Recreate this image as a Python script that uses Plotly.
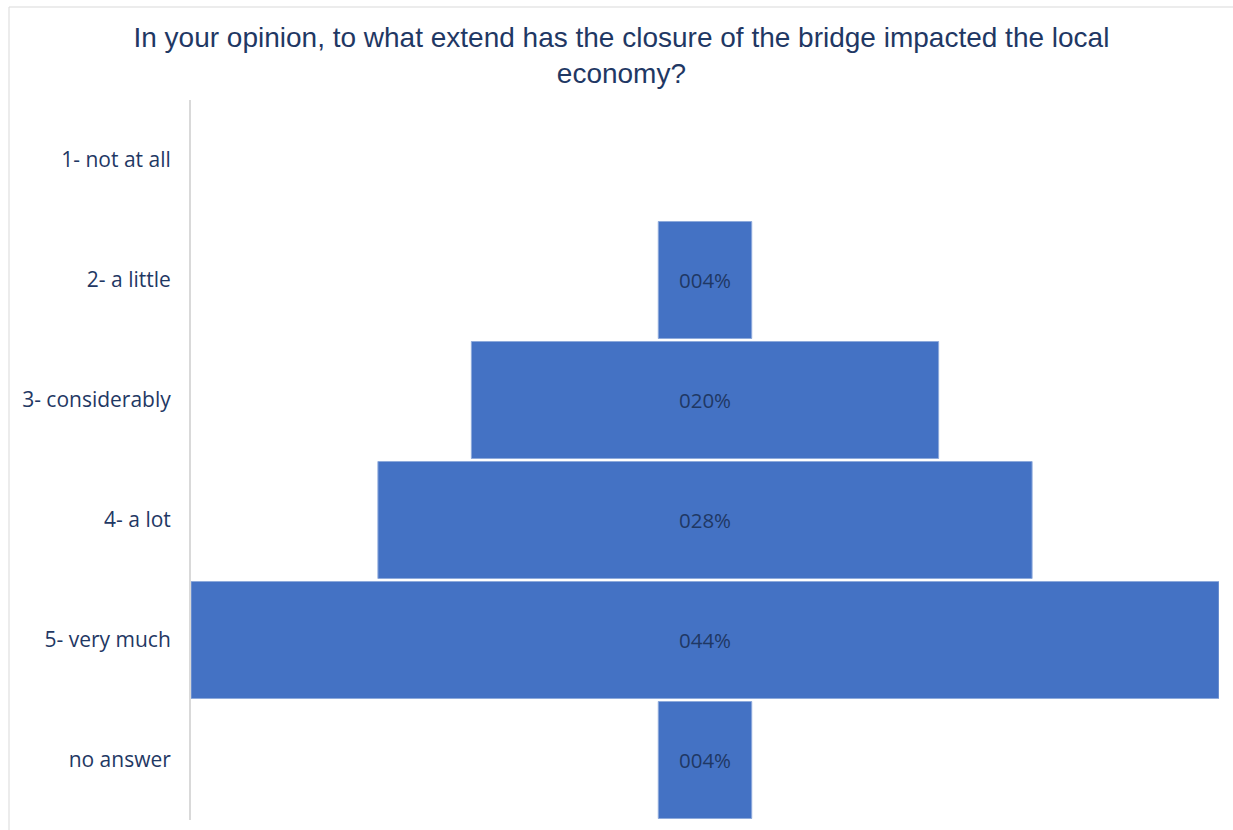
import plotly.graph_objects as go

# Survey responses (share of respondents, %)
categories = ["1- not at all", "2- a little", "3- considerably", "4- a lot", "5- very much", "no answer"]
shares = [0, 4, 20, 28, 44, 4]

title_text = "In your opinion, to what extend has the closure of the bridge impacted the local<br>economy?"

labels = [f"{v:03d}%" if v else "" for v in shares]
# empty categories get no outline so no sliver is drawn
edge_colors = ["#8eaadb" if v else "rgba(0,0,0,0)" for v in shares]

W, H = 1233, 830
ML, MR, MT, MB = 191, 14, 100, 10
plot_w = W - ML - MR
plot_h = H - MT - MB

navy = "#1f3864"

fig = go.Figure(
    go.Funnel(
        y=categories,
        x=shares,
        text=labels,
        textinfo="text",
        textposition="inside",
        insidetextanchor="middle",
        insidetextfont=dict(family="Open Sans", size=20.5, color=navy),
        marker=dict(color="#4472c4", line=dict(color=edge_colors, width=1)),
        connector=dict(visible=False),
        hoverinfo="y+x",
    )
)

half = max(shares) / 2

def px_to_paper_x(px):
    return (px - ML) / plot_w

def px_to_paper_y(py):
    return (H - MB - py) / plot_h

fig.update_layout(
    width=W,
    height=H,
    margin=dict(l=ML, r=MR, t=MT, b=MB),
    paper_bgcolor="white",
    plot_bgcolor="white",
    showlegend=False,
    funnelgap=0.025,
    title=dict(
        text=title_text,
        x=0.504,
        xanchor="center",
        y=1 - 47 / H,
        yanchor="middle",
        font=dict(family="Liberation Sans, Arial", size=28, color=navy),
    ),
    xaxis=dict(
        range=[-half, half],
        visible=False,
        fixedrange=True,
    ),
    yaxis=dict(
        showline=True,
        linecolor="#d9d9d9",
        linewidth=2,
        showgrid=False,
        ticks="",
        ticklabelstandoff=14,
        tickfont=dict(family="Open Sans", size=21, color=navy),
    ),
    shapes=[
        # chart frame (top and left edges fall inside the page)
        dict(
            type="rect",
            xref="paper",
            yref="paper",
            x0=px_to_paper_x(9),
            x1=px_to_paper_x(1260),
            y0=px_to_paper_y(860),
            y1=px_to_paper_y(7),
            line=dict(color="#d9d9d9", width=1),
            fillcolor="rgba(0,0,0,0)",
            layer="below",
        )
    ],
)

fig.write_html("out.html")
